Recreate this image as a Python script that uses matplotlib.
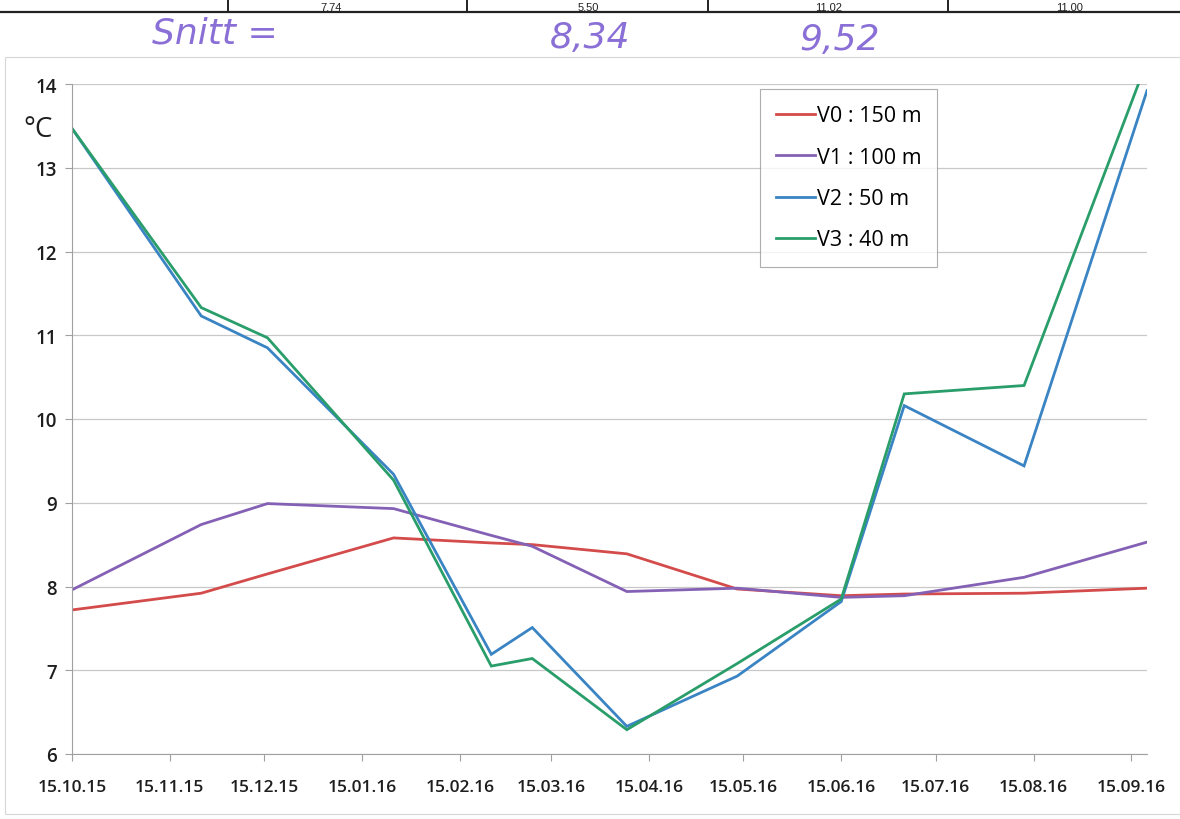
import datetime as dt
import matplotlib
matplotlib.use("Agg")
import matplotlib.pyplot as plt
import matplotlib.dates as mdates
from matplotlib.patches import Rectangle
from matplotlib.lines import Line2D

# Measurement dates (shared by all four depths)
dates = [
    "2015-10-15", "2015-11-25", "2015-12-16", "2016-01-25", "2016-02-25",
    "2016-03-09", "2016-04-08", "2016-05-13", "2016-06-15", "2016-07-05",
    "2016-08-12", "2016-09-20",
]

# Temperature (°C) per depth
v0_150m = [7.72, 7.92, 8.15, 8.58, 8.52, 8.50, 8.39, 7.97, 7.89, 7.91, 7.92, 7.98]
v1_100m = [7.96, 8.74, 8.99, 8.93, 8.61, 8.48, 7.94, 7.98, 7.87, 7.89, 8.11, 8.53]
v2_50m = [13.47, 11.23, 10.85, 9.34, 7.19, 7.51, 6.33, 6.93, 7.82, 10.16, 9.44, 13.92]
v3_40m = [13.47, 11.33, 10.97, 9.27, 7.05, 7.14, 6.29, 7.08, 7.85, 10.30, 10.40, 14.27]

series_labels = ["V0 : 150 m", "V1 : 100 m", "V2 : 50 m", "V3 : 40 m"]
series_colors = ["#D44B4B", "#8461B5", "#3A84C4", "#2A9E6A"]

y_ticks = [6, 7, 8, 9, 10, 11, 12, 13, 14]
x_tick_dates = [
    "2015-10-15", "2015-11-15", "2015-12-15", "2016-01-15", "2016-02-15",
    "2016-03-15", "2016-04-15", "2016-05-15", "2016-06-15", "2016-07-15",
    "2016-08-15", "2016-09-15",
]

# Table row above the chart (only its lower edge is visible)
table_values = ["7,74", "5,50", "11,02", "11,00"]
snitt_label = "Snitt ="
snitt_values = ["8,34", "9,52"]

to_date = lambda s: dt.datetime.strptime(s, "%Y-%m-%d")
x = [to_date(d) for d in dates]

W, H = 1180, 820
fig = plt.figure(figsize=(W / 100, H / 100), dpi=100)
fig.patch.set_facecolor("white")

def fx(px):
    return px / W

def fy(py):
    return 1 - py / H

# Table remnant at the top edge
fig.add_artist(Line2D([0, 1], [fy(13), fy(13)], color="#222222", lw=1.6))
for px in [228, 467, 708, 948]:
    fig.add_artist(Line2D([fx(px), fx(px)], [fy(0), fy(13)], color="#222222", lw=1.4))
for px, t in zip([331, 588, 829, 1070], table_values):
    fig.text(fx(px), fy(10), t, ha="center", va="baseline", fontsize=8,
             family="Liberation Sans", color="#222222")

# Handwritten averages
hand = dict(color="#8A6FD6", fontsize=26, family="DejaVu Sans",
            style="italic", va="center", ha="center")
fig.text(fx(215), fy(34), snitt_label, **hand)
fig.text(fx(590), fy(38), snitt_values[0], **hand)
fig.text(fx(840), fy(40), snitt_values[1], **hand)

# Chart area border
fig.add_artist(Rectangle((fx(5), fy(815)), fx(1180) - fx(5), fy(58) - fy(815),
                         fill=False, edgecolor="#D6D6D6", lw=0.8))

ax = fig.add_axes([fx(72), fy(755), fx(1147) - fx(72), fy(85) - fy(755)])
ax.set_facecolor("white")

for vals, lab, col in zip([v0_150m, v1_100m, v2_50m, v3_40m], series_labels, series_colors):
    ax.plot(x, vals, color=col, lw=2.0, label=lab, solid_joinstyle="miter")

ax.set_xlim(to_date("2015-10-15"), to_date("2016-09-20"))
ax.set_ylim(6, 14)
ax.set_yticks(y_ticks)
ax.set_yticklabels([str(v) for v in y_ticks])
ax.set_xticks([to_date(d) for d in x_tick_dates])
ax.xaxis.set_major_formatter(mdates.DateFormatter("%d.%m.%y"))

ax.grid(axis="y", color="#C8C8C8", lw=0.9)
ax.set_axisbelow(True)
for side in ["top", "right"]:
    ax.spines[side].set_visible(False)
ax.spines["left"].set_color("#A0A0A0")
ax.spines["bottom"].set_color("#A0A0A0")
ax.tick_params(axis="y", length=5, color="#A0A0A0", labelsize=13.5, pad=6,
               labelcolor="#1E1E1E")
ax.tick_params(axis="x", length=5, color="#A0A0A0", labelsize=12.5, pad=13,
               labelcolor="#1E1E1E")
for lbl in ax.get_xticklabels() + ax.get_yticklabels():
    lbl.set_family("Open Sans")
    lbl.set_weight("semibold")

# Unit label
fig.text(fx(38), fy(130), "°C", ha="center", va="center", fontsize=20,
         family="Open Sans", color="#1E1E1E")

leg = ax.legend(loc="upper left",
                bbox_to_anchor=((760 - 72) / (1147 - 72), 1 - (90 - 85) / 670),
                frameon=True, fancybox=False, handlelength=1.8, handletextpad=0.08,
                labelspacing=0.95, borderpad=0.75, borderaxespad=0,
                prop={"family": "Open Sans", "size": 15.5})
leg.get_frame().set_edgecolor("#9A9A9A")
leg.get_frame().set_linewidth(0.8)

fig.savefig("out.png", dpi=100, facecolor="white")
